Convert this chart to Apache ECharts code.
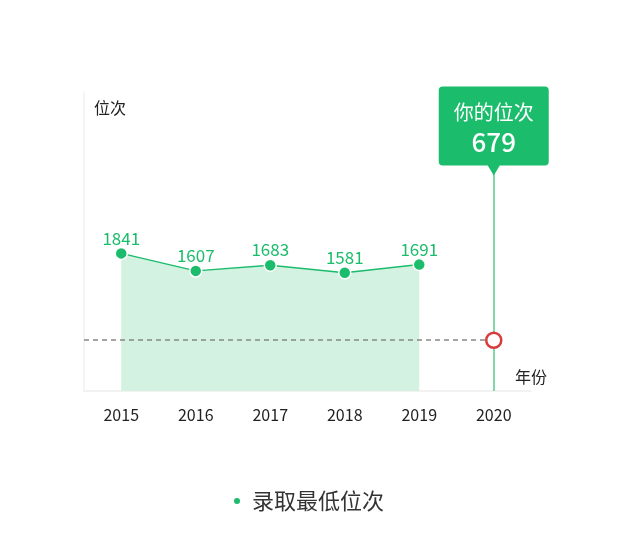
<!DOCTYPE html>
<html>
<head>
<meta charset="utf-8">
<script src="https://cdn.jsdelivr.net/npm/echarts@6/dist/echarts.min.js"></script>
<style>
	html, body { margin: 0; padding: 0; background: #fff; }
	#rank-chart { width: 640px; height: 539px; }
</style>
</head>
<body>
<div id="rank-chart"></div>
<script>
// data
var years = ['2015', '2016', '2017', '2018', '2019', '2020'];
var minRanks = [1841, 1607, 1683, 1581, 1691];
var myYear = '2020';
var myRank = 679;
var rankAxisMax = 4000;

var green = '#1bbc6b';
var gridLeft = 84;

var rankChart;

function buildChart(){
	rankChart = echarts.init(document.getElementById('rank-chart'));

	// rounded box with a little pointer at the bottom
	var boxPath = 'path://M4,0 H106 Q110,0 110,4 V75 Q110,79 106,79 H61 L55,89 L49,79 H4 Q0,79 0,75 V4 Q0,0 4,0 Z';

	var option = {
		textStyle: {
			fontFamily: '"Microsoft YaHei", "Noto Sans CJK SC", sans-serif'
		},
		grid: {
			left: gridLeft,
			width: 447,
			top: 92,
			height: 299
		},
		legend: {
			data: ['录取最低位次'],
			icon: 'circle',
			top: 485,
			left: 227,
			itemWidth: 20,
			itemHeight: 8,
			textStyle: { fontSize: 22, color: '#333' }
		},
		xAxis: {
			type: 'category',
			data: years,
			name: '年份',
			nameLocation: 'end',
			nameGap: -16,
			nameTextStyle: {
				color: '#222',
				fontSize: 16,
				align: 'left',
				verticalAlign: 'bottom',
				padding: [0, 0, 6, 0]
			},
			axisLine: { lineStyle: { color: '#eeeeee', width: 1.5 } },
			axisTick: { show: false },
			axisLabel: { color: '#222', fontSize: 16, margin: 16 }
		},
		yAxis: {
			type: 'value',
			min: 0,
			max: rankAxisMax,
			name: '位次',
			nameLocation: 'end',
			nameGap: -8,
			nameTextStyle: {
				color: '#222',
				fontSize: 16,
				align: 'left',
				verticalAlign: 'top',
				padding: [0, 0, 0, 10]
			},
			axisLine: { show: true, lineStyle: { color: '#f2f2f2', width: 1.5 } },
			axisTick: { show: false },
			axisLabel: { show: false },
			splitLine: { show: false }
		},
		series: [
			{
				name: '录取最低位次',
				type: 'line',
				data: minRanks,
				symbol: 'circle',
				symbolSize: 12,
				z: 2,
				lineStyle: { color: green, width: 1.5 },
				itemStyle: { color: green, borderColor: '#fff', borderWidth: 1.5 },
				areaStyle: { color: '#d3f2e1', opacity: 1 },
				label: {
					show: true,
					position: 'top',
					distance: 0,
					color: green,
					fontSize: 17
				}
			},
			{
				name: '你的位次',
				type: 'scatter',
				data: [[myYear, myRank]],
				symbol: 'circle',
				symbolSize: 15,
				z: 10,
				itemStyle: { color: '#fff', borderColor: '#d63c3c', borderWidth: 2.5, opacity: 1 },
				markLine: {
					silent: true,
					symbol: ['none', 'none'],
					z: 4,
					label: { show: false },
					data: [
						// vertical line on the current year
						{ xAxis: myYear, lineStyle: { color: '#82d7a9', width: 2, type: 'solid' } },
						// dashed line from the y axis to my rank
						[
							{ x: gridLeft, yAxis: myRank, lineStyle: { color: '#888', width: 1.5, type: [5, 4] } },
							{ xAxis: myYear, yAxis: myRank }
						]
					]
				},
				markPoint: {
					silent: true,
					z: 12,
					symbol: boxPath,
					symbolSize: [110, 89],
					symbolOffset: [0, 39],
					itemStyle: { color: green },
					label: {
						show: true,
						position: 'inside',
						offset: [0, -3],
						formatter: function(p){
							return '{a|你的位次}\n{b|' + p.value + '}';
						},
						rich: {
							a: { fontSize: 20, lineHeight: 28, color: '#fff' },
							b: { fontSize: 26, lineHeight: 32, color: '#fff', fontWeight: 500 }
						}
					},
					data: [
						{ coord: [myYear, rankAxisMax], value: myRank }
					]
				}
			}
		]
	};
	rankChart.setOption(option);
}

buildChart();
</script>
</body>
</html>
